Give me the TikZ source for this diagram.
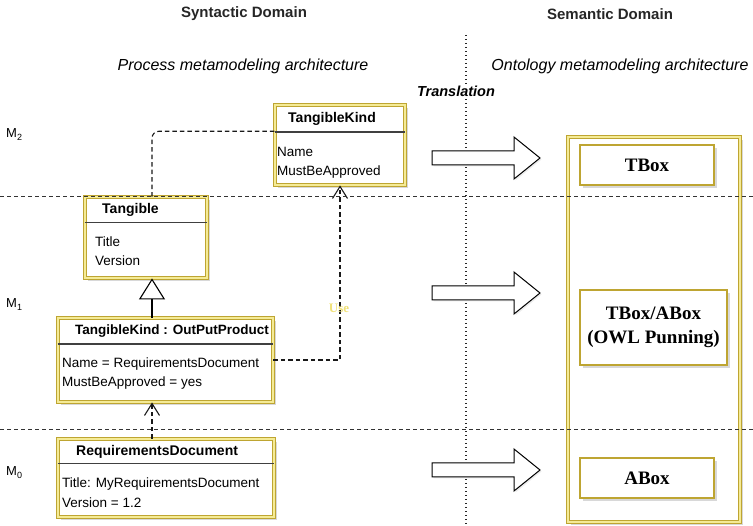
\documentclass[tikz,border=0pt]{standalone}
\usepackage{fontspec}
\setmainfont{Liberation Sans}
\newfontfamily\tmfont{Liberation Serif}
\usetikzlibrary{arrows.meta,shadows,calc}
\definecolor{gold}{RGB}{190,165,50}
\definecolor{pale}{RGB}{245,235,150}
\definecolor{usecol}{RGB}{240,225,120}
\newcommand{\msub}[2]{M\raisebox{-0.35ex}{\fontsize{9}{9}\selectfont #2}}
\begin{document}
\begin{tikzpicture}[x=1pt,y=-1pt,
  umlbox/.style={draw=gold, double=pale, double distance=2pt, line width=0.9pt, fill=white, inner sep=0pt,
    drop shadow={shadow xshift=2.5pt,shadow yshift=-3pt,fill=black!30}},
  owlbox/.style={draw=gold, line width=1.6pt, fill=white, inner sep=0pt,
    drop shadow={shadow xshift=2.5pt,shadow yshift=-3pt,fill=black!30}},
  hdr/.style={anchor=base west, inner sep=0pt, font=\fontsize{14}{16}\selectfont\bfseries},
  attr/.style={anchor=base west, inner sep=0pt, font=\fontsize{13.5}{16}\selectfont},
  owltxt/.style={align=center, font=\tmfont\fontsize{19}{24}\selectfont\bfseries},
  title/.style={font=\fontsize{15}{18}\selectfont\bfseries, text=black!85},
  subtitle/.style={font=\fontsize{16}{18}\selectfont\itshape},
  mlab/.style={anchor=base west, inner sep=0pt, font=\fontsize{13}{15}\selectfont},
  sep/.style={draw=black!75, line width=1.3pt},
  levelline/.style={draw=black!80, line width=1pt, dash pattern=on 4pt off 3pt},
  depline/.style={draw=black!90, line width=1.1pt, dash pattern=on 4.5pt off 3pt},
  genline/.style={draw=black, line width=1.1pt},
  blockarrow/.style={draw=black, line width=1pt, fill=white,
    drop shadow={shadow xshift=1.5pt,shadow yshift=-1.5pt,fill=black!15}}
]
\useasboundingbox (0,0) rectangle (753,526);

% titles
\node[title] (syn) at (244,14) {Syntactic Domain};
\node[title] (sem) at (610,14) {Semantic Domain};
\node[subtitle] (pma) at (243,66) {Process metamodeling architecture};
\node[subtitle] (oma) at (620,66) {Ontology metamodeling architecture};

% vertical dotted translation line
\coordinate (vtop) at (466,35);
\coordinate (vbot) at (466,526);
\draw[black!85, line width=1.3pt, dash pattern=on 1.4pt off 2.6pt] (vtop) -- (vbot);
\node[fill=white, inner sep=1pt, font=\fontsize{14.5}{16}\selectfont\bfseries\itshape] (trans) at (456,91) {Translation};

% level labels
\node[mlab] (m2) at (6,138) {\msub{M}{2}};
\node[mlab] (m1) at (6,308) {\msub{M}{1}};
\node[mlab] (m0) at (6,476) {\msub{M}{0}};

% block arrows
\foreach \yy in {158,293,470} {
  \draw[blockarrow] (432,\yy-7) -- (514,\yy-7) -- (514,\yy-21) -- (540,\yy) -- (514,\yy+21) -- (514,\yy+7) -- (432,\yy+7) -- cycle;
}

% right container
\node[umlbox, minimum width=172pt, minimum height=385pt] (ont) at (654,329.5) {};
\node[owlbox, minimum width=134pt, minimum height=40pt] (tbox) at (647,165) {};
\node[owltxt] (tboxt) at (tbox.center) {TBox};
\node[owlbox, minimum width=147pt, minimum height=75pt] (tabox) at (653.5,327.5) {};
\node[owltxt] (taboxt) at (tabox.center) {TBox/ABox\\(OWL Punning)};
\node[owlbox, minimum width=134pt, minimum height=40pt] (abox) at (647,478) {};
\node[owltxt] (aboxt) at (abox.center) {ABox};

% UML boxes
\node[umlbox, minimum width=130pt, minimum height=80pt] (tk) at (340,145) {};
\draw[sep] ($(tk.north west)!0.34!(tk.south west)$) -- ($(tk.north east)!0.34!(tk.south east)$);
\node[hdr] (tkh) at (288,123) {TangibleKind};
\node[attr] (tka1) at (277,157) {Name};
\node[attr] (tka2) at (277,176) {MustBeApproved};

\node[umlbox, minimum width=122pt, minimum height=81pt] (tg) at (146,237.5) {};
\draw[sep] ($(tg.north west)!0.32!(tg.south west)$) -- ($(tg.north east)!0.32!(tg.south east)$);
\node[hdr] (tgh) at (102,214) {Tangible};
\node[attr] (tga1) at (95,247) {Title};
\node[attr] (tga2) at (95,266) {Version};

\node[umlbox, minimum width=215pt, minimum height=84pt] (op) at (165.5,360) {};
\draw[sep] ($(op.north west)!0.31!(op.south west)$) -- ($(op.north east)!0.31!(op.south east)$);
\node[hdr, font=\fontsize{13.5}{16}\selectfont\bfseries] (oph) at (75,335) {TangibleKind : OutPutProduct};
\node[attr] (opa1) at (62,368) {Name = RequirementsDocument};
\node[attr] (opa2) at (62,387) {MustBeApproved = yes};

\node[umlbox, minimum width=216pt, minimum height=78pt] (req) at (166,478) {};
\draw[sep] ($(req.north west)!0.32!(req.south west)$) -- ($(req.north east)!0.32!(req.south east)$);
\node[hdr] (reqh) at (76,456) {RequirementsDocument};
\node[attr] (reqa1) at (62,488) {Title: MyRequirementsDocument};
\node[attr] (reqa2) at (62,508) {Version = 1.2};

% connectors
\coordinate (cx) at (152,0);
\draw[genline, -{Triangle[open, length=21pt, width=26pt, line width=1.1pt]}] (op.north -| cx) -- (tg.south -| cx);
\draw[depline, rounded corners=7pt] (tg.north -| cx) |- ($(tk.north west)!0.33!(tk.south west)$);
\draw[depline, -{Straight Barb[length=12pt, width=15pt, line width=1.1pt]}] (op.east) -| (tk.south);
\draw[depline, -{Straight Barb[length=12pt, width=15pt, line width=1.1pt]}] (req.north -| cx) -- (op.south -| cx);
\node[text=usecol, font=\tmfont\fontsize{13}{14}\selectfont\bfseries] (use) at (339,308) {Use};

% level separators
\coordinate (l1a) at (0,197);
\coordinate (l1b) at (753,197);
\coordinate (l2a) at (0,430);
\coordinate (l2b) at (753,430);
\draw[levelline] (l1a) -- (l1b);
\draw[levelline] (l2a) -- (l2b);
\end{tikzpicture}
\end{document}
